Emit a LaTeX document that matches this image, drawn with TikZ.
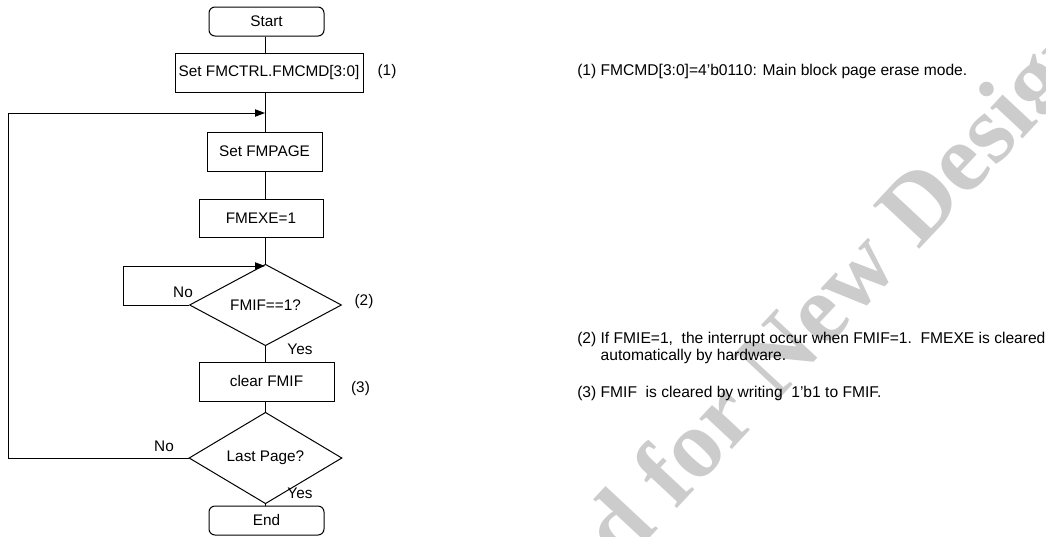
\documentclass[tikz,border=0pt]{standalone}
\usepackage{fontspec}
\setmainfont{Liberation Sans}
\newfontfamily\wmfont{Liberation Serif}
\usetikzlibrary{shapes.geometric,arrows.meta}
\begin{document}
\begin{tikzpicture}[x=0.75pt,y=-0.75pt,
  every node/.style={font=\fontsize{11.5}{12.4}\selectfont},
  notefont/.style={font=\fontsize{11.7}{12.4}\selectfont},
  box/.style={draw,line width=0.75pt,inner sep=0pt,align=center},
  term/.style={box,rounded corners=4.5pt},
  dec/.style={draw,diamond,line width=0.75pt,inner sep=0pt},
  conn/.style={line width=0.75pt},
  arr/.style={conn,-{Triangle[length=7.5pt,width=5.5pt]}},
  lbl/.style={inner sep=0pt},
  note/.style={notefont,inner sep=0pt,anchor=west,align=left}]
\useasboundingbox (0,0) rectangle (1046,536);
\begin{scope}
\clip (0,0) rectangle (1046,536);
\node[rotate=47,text=black!20,font=\wmfont\bfseries\fontsize{72.75}{80}\selectfont,inner sep=0pt] (wm) at (598,559.5) {Not Recommended for New Design};
\end{scope}
% flowchart nodes
\node[term,minimum width=86.25pt,minimum height=21.75pt] (start) at (266.5,21.5) {Start};
\node[box,minimum width=141pt,minimum height=29.25pt] (fmctrl) at (269,72.5) {Set FMCTRL.FMCMD[3:0]};
\node[box,minimum width=86.25pt,minimum height=29.25pt] (fmpage) at (264.5,151.5) {Set FMPAGE};
\node[box,minimum width=93pt,minimum height=28.5pt] (fmexe) at (261,218) {FMEXE=1};
\node[dec,minimum width=114pt,minimum height=42pt] (d1) at (265.5,305) {FMIF==1?};
\node[box,minimum width=101.25pt,minimum height=29.25pt] (clear) at (266.5,381.5) {clear FMIF};
\node[dec,minimum width=114.75pt,minimum height=43.5pt] (d2) at (265.5,458) {Last Page?};
\node[term,minimum width=86.25pt,minimum height=21.75pt] (end) at (266.5,520.5) {End};
% connectors
\coordinate (m) at (265,0);
\draw[conn] (start.south -| m) -- (fmctrl.north -| m);
\draw[conn] (fmctrl.south -| m) -- (fmpage.north -| m);
\draw[conn] (fmpage.south -| m) -- (fmexe.north -| m);
\draw[conn] (fmexe.south -| m) -- (d1.north -| m);
\draw[conn] (d1.south -| m) -- (clear.north -| m);
\draw[conn] (clear.south -| m) -- (d2.north -| m);
\draw[conn] (d2.south -| m) -- (end.north -| m);
\coordinate (j1) at (265,113);
\coordinate (lt) at (8,113);
\draw[arr] (d2.west) -| (lt) -- (j1);
\coordinate (j2) at (265,266);
\coordinate (il) at (123,266);
\draw[arr] (d1.west) -| (il) -- (j2);
% labels
\node[lbl] (l1) at (387,72) {(1)};
\node[lbl] (no1) at (183,292) {No};
\node[lbl] (l2) at (364,302) {(2)};
\node[lbl] (yes1) at (300,349) {Yes};
\node[lbl] (l3) at (360.5,389) {(3)};
\node[lbl] (no2) at (164,446) {No};
\node[lbl] (yes2) at (300,493) {Yes};
% notes
\node[note] (n1) at (577,71) {(1) FMCMD[3:0]=4’b0110: Main block page erase mode.};
\node[note] (n2) at (577,348) {(2) If FMIE=1,\ \ the interrupt occur when FMIF=1.\ \ FMEXE is cleared\\\hphantom{(2)} automatically by hardware.};
\node[note] (n3) at (577,393) {(3) FMIF\ \ is cleared by writing\ \ 1’b1 to FMIF.};
\end{tikzpicture}
\end{document}
